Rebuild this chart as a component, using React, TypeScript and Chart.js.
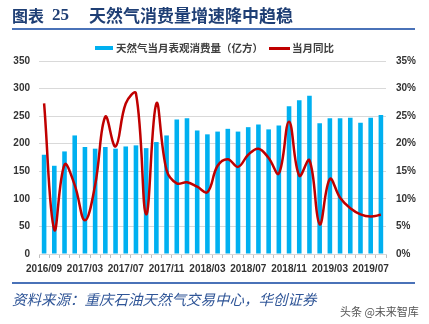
import React, { useEffect, useRef } from "react";
import { Chart, registerables } from "chart.js";
Chart.register(...registerables);

const categories = [
  "2016/09", "2016/10", "2016/11", "2016/12",
  "2017/03", "2017/04", "2017/05", "2017/06", "2017/07", "2017/08", "2017/09", "2017/10", "2017/11", "2017/12",
  "2018/01", "2018/02", "2018/03", "2018/04", "2018/05", "2018/06", "2018/07", "2018/08", "2018/09", "2018/10", "2018/11", "2018/12",
  "2019/01", "2019/02", "2019/03", "2019/04", "2019/05", "2019/06", "2019/07", "2019/08",
];

const consumption = [
  180, 160, 186, 215,
  194, 191, 194, 191, 195, 197, 192, 203, 215, 244,
  246, 224, 217, 222, 227, 222, 230, 235, 226, 233, 268, 279,
  287, 237, 246, 246, 247, 238, 247, 252,
];

const yoy = [
  27.3, 4.4, 16.2, 12.5,
  6.1, 12.5, 24.9, 19.5, 27.3, 29.1, 7.2, 27.3, 15.2, 12.8,
  13.0, 12.2, 11.2, 16.0, 17.2, 15.8, 18.0, 19.1, 17.4, 14.6, 24.0, 14.2,
  17.0, 5.4, 13.6, 10.2, 8.3, 7.2, 6.8, 7.1,
];

const barLabel = "天然气当月表观消费量（亿方）";
const lineLabel = "当月同比";
const titleText = "天然气消费量增速降中趋稳";
const sourceText = "资料来源：重庆石油天然气交易中心，华创证券";

const tickFont = { family: "'Liberation Sans', Arial, sans-serif", size: 10, weight: "bold" as const };
const tickColor = "#333333";

export default function App() {
  const ref = useRef<HTMLCanvasElement>(null);
  useEffect(() => {
    const chart = new Chart(ref.current!, {
      type: "bar",
      data: {
        labels: categories,
        datasets: [
          {
            type: "line",
            label: lineLabel,
            data: yoy,
            yAxisID: "y1",
            borderColor: "#C00000",
            backgroundColor: "#C00000",
            borderWidth: 2.5,
            pointRadius: 0,
            tension: 0.4,
            order: 0,
          } as any,
          {
            type: "bar",
            label: barLabel,
            data: consumption,
            yAxisID: "y",
            backgroundColor: "#00B0F0",
            barPercentage: 0.45,
            categoryPercentage: 1,
            order: 1,
          },
        ],
      },
      options: {
        responsive: false,
        animation: false,
        devicePixelRatio: 1,
        layout: { padding: { top: 61, left: 0, right: 0, bottom: 0 } },
        plugins: { legend: { display: false }, tooltip: { enabled: false } },
        scales: {
          x: {
            grid: { offset: true, drawOnChartArea: false, tickLength: 4, color: "#BFBFBF" },
            border: { color: "#D9D9D9" },
            ticks: {
              autoSkip: false,
              maxRotation: 0,
              minRotation: 0,
              padding: 5,
              font: tickFont,
              color: tickColor,
              callback: (_v: any, i: number) => (i % 4 === 0 ? categories[i] : ""),
            },
            afterFit: (s: any) => { s.height = 70; },
          },
          y: {
            position: "left",
            min: 0,
            max: 350,
            ticks: { stepSize: 50, padding: 9, font: tickFont, color: tickColor },
            grid: { color: "#D9D9D9", drawTicks: false },
            border: { display: false },
            afterFit: (s: any) => { s.width = 39; },
          },
          y1: {
            position: "right",
            min: 0,
            max: 35,
            ticks: { stepSize: 5, padding: 10, font: tickFont, color: tickColor, callback: (v: any) => v + "%" },
            grid: { display: false, drawTicks: false },
            border: { display: false },
            afterFit: (s: any) => { s.width = 43; },
          },
        },
      },
    } as any);
    return () => chart.destroy();
  }, []);

  const cjk = "'Noto Sans CJK SC', 'Noto Sans', sans-serif";
  return (
    <div style={{ position: "absolute", left: 0, top: 0, width: 429, height: 324, background: "#fff", overflow: "hidden" }}>
      <canvas ref={ref} width={429} height={324} style={{ position: "absolute", left: 0, top: 0, width: 429, height: 324 }} />
      <div style={{ position: "absolute", left: 12, top: 5, height: 20, lineHeight: "20px", fontFamily: cjk, fontWeight: 700, fontSize: 16, color: "#1F3F75", whiteSpace: "nowrap" }}>图表</div>
      <div style={{ position: "absolute", left: 52, top: 5, height: 20, lineHeight: "20px", fontFamily: "'Liberation Serif', serif", fontWeight: 700, fontSize: 17, color: "#1F3F75" }}>25</div>
      <div style={{ position: "absolute", left: 89, top: 5, height: 20, lineHeight: "20px", fontFamily: cjk, fontWeight: 700, fontSize: 17, color: "#1F3F75", whiteSpace: "nowrap" }}>{titleText}</div>
      <div style={{ position: "absolute", left: 12, top: 28, width: 403, height: 2, background: "#4A72B8" }} />
      <div style={{ position: "absolute", left: 95, top: 46, width: 18, height: 4, background: "#00B0F0" }} />
      <div style={{ position: "absolute", left: 116, top: 41, height: 14, lineHeight: "14px", fontFamily: cjk, fontWeight: 700, fontSize: 10.5, color: "#404040", whiteSpace: "nowrap" }}>{barLabel}</div>
      <div style={{ position: "absolute", left: 269, top: 47, width: 21, height: 2.5, background: "#C00000" }} />
      <div style={{ position: "absolute", left: 292, top: 41, height: 14, lineHeight: "14px", fontFamily: cjk, fontWeight: 700, fontSize: 10.5, color: "#404040", whiteSpace: "nowrap" }}>{lineLabel}</div>
      <div style={{ position: "absolute", left: 12, top: 282, width: 403, height: 2, background: "#4A72B8" }} />
      <div style={{ position: "absolute", left: 12, top: 290, height: 18, lineHeight: "18px", fontFamily: cjk, fontStyle: "italic", fontSize: 14.5, color: "#2F5597", whiteSpace: "nowrap" }}>{sourceText}</div>
      <div style={{ position: "absolute", left: 340, top: 303, height: 16, lineHeight: "16px", fontFamily: cjk, fontSize: 11, color: "#555", whiteSpace: "nowrap" }}>头条 @未来智库</div>
    </div>
  );
}
